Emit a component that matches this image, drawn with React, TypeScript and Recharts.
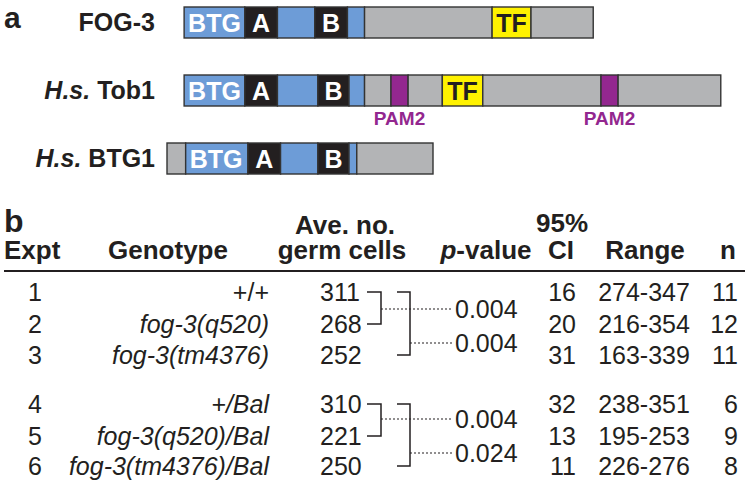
import React from "react";
import { BarChart, Bar, XAxis, YAxis } from "recharts";

// panel a: domain maps, lengths in residues (1 residue ~ 1.556 px)
const proteins = ["FOG-3", "H.s. Tob1", "H.s. BTG1"];
const startOffsets = [11, 11, 0];
const fog3Domains = ["BTG", "A", "core", "B", "core", "other", "TF", "other"];
const fog3Lengths = [39, 21, 24, 21, 11, 82, 25, 40];
const tob1Domains = ["BTG", "A", "core", "B", "core", "other", "PAM2", "other", "TF", "other", "PAM2", "other"];
const tob1Lengths = [39, 21, 26, 20, 10, 17, 11, 22, 26, 76, 11, 66];
const btg1Domains = ["other", "BTG", "A", "core", "B", "core", "other"];
const btg1Lengths = [12, 40, 21, 24, 20, 5, 49];

// panel b: table
const expts = ["1", "2", "3", "4", "5", "6"];
const genotypes = ["+/+", "fog-3(q520)", "fog-3(tm4376)", "+/Bal", "fog-3(q520)/Bal", "fog-3(tm4376)/Bal"];
const aveGermCells = [311, 268, 252, 310, 221, 250];
const ci95 = [16, 20, 31, 32, 13, 11];
const ranges = ["274-347", "216-354", "163-339", "238-351", "195-253", "226-276"];
const nWorms = [11, 12, 11, 6, 9, 8];
const pValues = ["0.004", "0.004", "0.004", "0.024"];

const FONT = "'Liberation Sans', Arial, Helvetica, sans-serif";
const INK = "#231f20";
const MAX_SEG = 12;

const domainFill: Record<string, string> = {
  BTG: "#6d9cd7",
  core: "#6d9cd7",
  A: "#231f20",
  B: "#231f20",
  other: "#b3b4b6",
  TF: "#fff200",
  PAM2: "#93278f",
};

const domainSets = [fog3Domains, tob1Domains, btg1Domains];
const lengthSets = [fog3Lengths, tob1Lengths, btg1Lengths];

const rows = proteins.map((name, r) => {
  const row: Record<string, any> = { name, off: startOffsets[r] };
  for (let k = 0; k < MAX_SEG; k++) {
    row[`s${k}`] = lengthSets[r][k] ?? 0;
    row[`d${k}`] = domainSets[r][k] ?? "";
  }
  return row;
});

const segShape = (k: number) => (p: any) => {
  const { x, y, width, height, payload } = p;
  const d = payload ? payload[`d${k}`] : "";
  if (!d || !(width > 0)) return <g />;
  const cy = y + height / 2 + 9;
  let label = null;
  if (d === "BTG") {
    label = (
      <text x={x + 4} y={cy} fill="#fff" fontSize={25} fontWeight="bold" fontFamily={FONT}>
        BTG
      </text>
    );
  } else if (d === "A" || d === "B" || d === "TF") {
    label = (
      <text x={x + width / 2} y={cy} textAnchor="middle" fill={d === "TF" ? INK : "#fff"} fontSize={25} fontWeight="bold" fontFamily={FONT}>
        {d}
      </text>
    );
  } else if (d === "PAM2") {
    label = (
      <text x={x + width / 2} y={y + height + 19} textAnchor="middle" fill="#93278f" fontSize={19} fontWeight="bold" fontFamily={FONT}>
        PAM2
      </text>
    );
  }
  return (
    <g>
      <rect x={x} y={y} width={width} height={height} fill={domainFill[d]} stroke="#333" strokeWidth={1.4} />
      {label}
    </g>
  );
};

const ProteinTick = (props: any) => {
  const { y, payload } = props;
  const name: string = payload.value;
  const isHs = name.startsWith("H.s.");
  return (
    <text x={155} y={y + 9} textAnchor="end" fill={INK} fontSize={25} fontWeight="bold" fontFamily={FONT}>
      {isHs ? (
        <>
          <tspan fontStyle="italic">H.s.</tspan>
          <tspan>{name.slice(4)}</tspan>
        </>
      ) : (
        name
      )}
    </text>
  );
};

const rowCenters = [292, 324, 355, 404, 436, 466];
const pCenters = [309, 343, 419, 453];

export default function App() {
  return (
    <div style={{ position: "absolute", left: 0, top: 0, width: 751, height: 487, background: "#fff" }}>
      <div style={{ position: "absolute", left: 0, top: -12 }}>
        <BarChart
          layout="vertical"
          width={751}
          height={204}
          data={rows}
          margin={{ top: 0, right: 24, bottom: 0, left: 7 }}
          barSize={31}
        >
          <XAxis type="number" domain={[0, 360]} hide />
          <YAxis type="category" dataKey="name" width={160} axisLine={false} tickLine={false} tick={<ProteinTick />} />
          <Bar dataKey="off" stackId="p" fill="none" isAnimationActive={false} />
          {Array.from({ length: MAX_SEG }, (_, k) => (
            <Bar key={k} dataKey={`s${k}`} stackId="p" isAnimationActive={false} shape={segShape(k)} />
          ))}
        </BarChart>
      </div>

      <svg width={751} height={487} style={{ position: "absolute", left: 0, top: 0, pointerEvents: "none" }} fontFamily={FONT} fill={INK}>
        <text x={4} y={28} fontSize={30} fontWeight="bold">a</text>
        <text x={4} y={232} fontSize={32} fontWeight="bold">b</text>

        {/* header */}
        <g fontSize={26} fontWeight="bold">
          <text x={345} y={234} textAnchor="middle">Ave. no.</text>
          <text x={562} y={232} textAnchor="middle">95%</text>
          <text x={4} y={259}>Expt</text>
          <text x={168} y={259} textAnchor="middle">Genotype</text>
          <text x={342} y={259} textAnchor="middle">germ cells</text>
          <text x={486} y={259} textAnchor="middle">
            <tspan fontStyle="italic">p</tspan>-value
          </text>
          <text x={561} y={259} textAnchor="middle">CI</text>
          <text x={645} y={259} textAnchor="middle">Range</text>
          <text x={728} y={259} textAnchor="middle">n</text>
        </g>
        <line x1={4} x2={745} y1={271} y2={271} stroke={INK} strokeWidth={2} />

        {/* rows */}
        <g fontSize={25}>
          {expts.map((e, i) => {
            const by = rowCenters[i] + 9;
            return (
              <g key={e}>
                <text x={35} y={by} textAnchor="middle">{e}</text>
                <text x={269} y={by} textAnchor="end" fontStyle={genotypes[i] === "+/+" ? "normal" : "italic"}>
                  {genotypes[i]}
                </text>
                <text x={320} y={by}>{aveGermCells[i]}</text>
                <text x={576} y={by} textAnchor="end">{ci95[i]}</text>
                <text x={644} y={by} textAnchor="middle">{ranges[i]}</text>
                <text x={738} y={by} textAnchor="end">{nWorms[i]}</text>
              </g>
            );
          })}
          {pValues.map((p, i) => (
            <text key={i} x={455} y={pCenters[i] + 9}>{p}</text>
          ))}
        </g>

        {/* comparison brackets */}
        <g fill="none" stroke={INK} strokeWidth={1.5}>
          {[0, 3].map((g) => (
            <g key={g}>
              <path d={`M367 ${rowCenters[g]} H381 V${rowCenters[g + 1]} H367`} />
              <path d={`M397 ${rowCenters[g]} H410 V${rowCenters[g + 2]} H397`} />
            </g>
          ))}
          <g strokeDasharray="2 2" strokeWidth={1.2}>
            <path d={`M381 ${pCenters[0]} H453`} />
            <path d={`M410 ${pCenters[1]} H453`} />
            <path d={`M381 ${pCenters[2]} H453`} />
            <path d={`M410 ${pCenters[3]} H453`} />
          </g>
        </g>
      </svg>
    </div>
  );
}
